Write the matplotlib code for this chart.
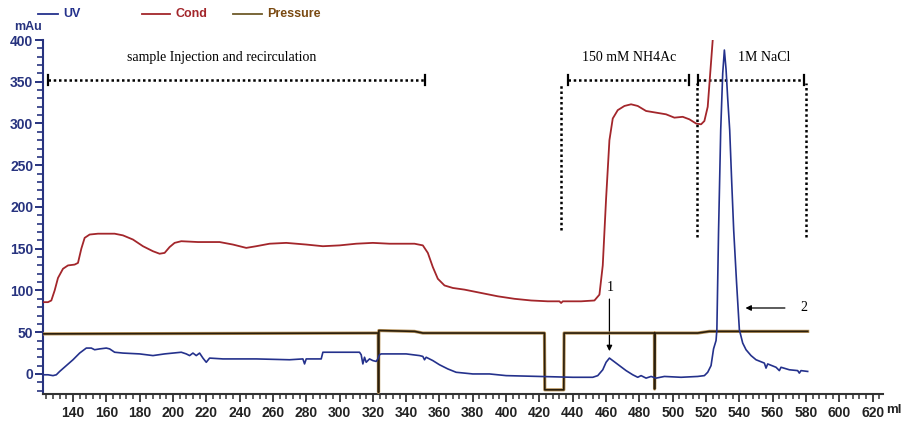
import matplotlib.pyplot as plt
from matplotlib.lines import Line2D
from matplotlib.ticker import MultipleLocator

# -----------------------------
# Chromatogram traces (volume in ml, signal in mAu)
# -----------------------------
cond_ml = [122, 125, 127, 129, 131, 134, 137, 141, 143, 145, 147, 150, 155, 165, 170,
           176, 182, 188, 192, 195, 198, 201, 205, 215, 228, 236, 244, 250, 258, 268,
           280, 290, 300, 310, 320, 330, 345, 350, 353, 356, 359, 363, 368, 375, 385,
           395, 405, 415, 425, 432, 433, 434, 445, 453, 456, 458, 460, 462, 464, 467,
           471, 475, 479, 484, 490, 496, 501, 506, 510, 514, 517, 519, 521, 522.5, 524]
cond_val = [86, 86, 88, 100, 115, 126, 130, 131, 133, 150, 163, 167, 168, 168, 166,
            161, 153, 147, 144, 145, 152, 157, 159, 158, 158, 155, 151, 153, 156, 157,
            155, 153, 154, 156, 157, 156, 156, 154, 145, 128, 114, 106, 103, 101, 97,
            93, 90, 88, 87, 87, 85, 87, 87, 88, 95, 130, 210, 280, 306, 316,
            321, 323, 321, 315, 313, 311, 307, 308, 305, 300, 299, 303, 320, 360, 400]

uv_ml = [122, 125, 128, 130, 132, 136, 140, 144, 148, 151, 153, 156, 160, 162, 165,
         170, 180, 188, 195, 200, 205, 208, 210, 212, 214, 216, 218, 220, 222, 230,
         250, 270, 278, 279, 280, 289, 290, 312, 313, 314, 315, 316, 318, 320, 322,
         323, 324, 325, 340, 348, 350, 351, 352, 356, 360, 365, 370, 380, 390, 400,
         420, 440, 452, 455, 458, 460, 462, 464, 468, 472, 476, 479, 481, 484, 487,
         490, 495, 505, 515, 519, 521, 523, 524.5, 526, 526.5, 527.5, 528.8, 530, 531,
         532, 533, 534.2, 535.4, 536.6, 538.3, 540, 542, 544, 547, 550, 555, 556, 557,
         562, 564, 565, 570, 575, 576, 577, 581]
uv_val = [-1, -1, -2, -1, 3, 10, 17, 25, 31, 31, 29, 30, 31, 30, 26,
          25, 24, 22, 24, 25, 26, 24, 22, 25, 22, 25, 19, 14, 19, 18,
          18, 17, 18, 12, 18, 18, 26, 26, 23, 12, 20, 14, 18, 16, 15,
          18, 23, 24, 24, 22, 21, 17, 20, 16, 11, 6, 2, 0, 0, -2,
          -3, -4, -4, -2, 5, 14, 19, 16, 10, 4, -1, -4, -2, -5, -3,
          -5, -3, -4, -3, -2, 2, 10, 30, 40, 53, 170, 292, 360, 388,
          365, 330, 292, 230, 172, 110, 53, 37, 29, 22, 17, 13, 7, 12,
          8, 4, 8, 5, 4, 1, 4, 3]

pres_ml = [122, 323.2, 323.4, 323.6, 345, 350, 423.0, 423.2, 434.6, 434.8,
           489.0, 489.1, 489.3, 515, 522, 581]
pres_val = [48, 49, -22, 52, 51, 49, 49, -19, -19, 49,
            49, -18, 49, 49, 51, 51]

# phase brackets: (start ml, end ml, label, label centre)
phase_start = [125, 437, 515]
phase_end = [351, 510, 578.6]
phase_label = ["sample Injection and recirculation", "150 mM NH4Ac", "1M NaCl"]
phase_label_x = [229, 474, 555]
divider_ml = [433, 514.5, 580]
divider_low = [172, 164, 164]

NAVY = "#27337f"
UV_C = "#24318c"
COND_C = "#a3262b"
PRES_DARK = "#2a1e0c"
PRES_HALO = "#b8935a"

fig = plt.figure(figsize=(9.09, 4.23), dpi=100)
ax = fig.add_axes([0.0473, 0.0686, 0.9237, 0.8368])

ax.plot(cond_ml, cond_val, color=COND_C, lw=1.3, zorder=3)
ax.plot(pres_ml, pres_val, color=PRES_HALO, lw=2.3, zorder=4)
ax.plot(pres_ml, pres_val, color=PRES_DARK, lw=1.2, zorder=5)
ax.plot(uv_ml, uv_val, color=UV_C, lw=1.2, zorder=6)

ax.set_xlim(122, 626)
ax.set_ylim(-24, 400)

# -----------------------------
# Axis styling
# -----------------------------
for side in ["top", "right"]:
    ax.spines[side].set_visible(False)
ax.spines["left"].set_color(NAVY)
ax.spines["bottom"].set_color("#333333")
ax.spines["left"].set_linewidth(1.5)
ax.spines["bottom"].set_linewidth(1.5)

ax.xaxis.set_minor_locator(MultipleLocator(4))
ax.yaxis.set_minor_locator(MultipleLocator(10))
ax.set_xticks(range(140, 621, 20))
ax.set_yticks(range(0, 401, 50))

ax.tick_params(axis="y", which="major", length=6, width=1.4, color=NAVY,
               labelcolor=NAVY, labelsize=10, pad=1)
ax.tick_params(axis="y", which="minor", length=4, width=1.2, color=NAVY)
ax.tick_params(axis="x", which="major", length=6, width=1.3, color="#333333",
               labelcolor="#222222", labelsize=10, pad=3)
ax.tick_params(axis="x", which="minor", length=3.5, width=1.1, color="#333333")
for lab in ax.get_xticklabels() + ax.get_yticklabels():
    lab.set_fontfamily("Liberation Sans")
    lab.set_fontweight("bold")

fig.text(0.031, 0.936, "mAu", color=NAVY, fontsize=9, fontweight="bold",
         family="Liberation Sans", ha="center", va="center")
fig.text(0.983, 0.03, "ml", color="#222222", fontsize=9.5, fontweight="bold",
         family="Liberation Sans", ha="center", va="center")

# -----------------------------
# Legend along the top
# -----------------------------
legend_items = [("UV", UV_C, UV_C, 0.042, 0.064),
                ("Cond", COND_C, COND_C, 0.156, 0.187),
                ("Pressure", "#6e5a2a", "#7a4a12", 0.256, 0.288)]
for name, lc, tc, x0, x1 in legend_items:
    fig.add_artist(Line2D([x0, x1], [0.967, 0.967], color=lc, lw=1.3,
                          transform=fig.transFigure))
    fig.text(x1 + 0.006, 0.967, name, color=tc, fontsize=9, fontweight="bold",
             family="Liberation Sans", va="center")

# -----------------------------
# Phase brackets and dividers
# -----------------------------
dots = (0, (1, 1.1))
for s, e, lab, lx in zip(phase_start, phase_end, phase_label, phase_label_x):
    ax.plot([s, e], [352, 352], color="black", lw=1.8, ls=dots, zorder=2)
    for xc in (s, e):
        ax.plot([xc, xc], [346, 358], color="black", lw=1.6, zorder=2)
    ax.text(lx, 379, lab, family="Liberation Serif", fontsize=10,
            ha="center", va="center")

for xm, lo in zip(divider_ml, divider_low):
    ax.plot([xm, xm], [lo, 349], color="black", lw=1.8, ls=dots, zorder=2)

# -----------------------------
# Peak markers
# -----------------------------
ax.annotate("", xy=(462, 24), xytext=(462, 93),
            arrowprops=dict(arrowstyle="-|>", color="black", lw=0.9,
                            mutation_scale=8))
ax.text(462.5, 104, "1", family="Liberation Serif", fontsize=10,
        ha="center", va="center")
ax.annotate("", xy=(542, 79), xytext=(569, 79),
            arrowprops=dict(arrowstyle="-|>", color="black", lw=0.9,
                            mutation_scale=8))
ax.text(579, 79, "2", family="Liberation Serif", fontsize=10,
        ha="center", va="center")

plt.savefig("out.png", dpi=100)
